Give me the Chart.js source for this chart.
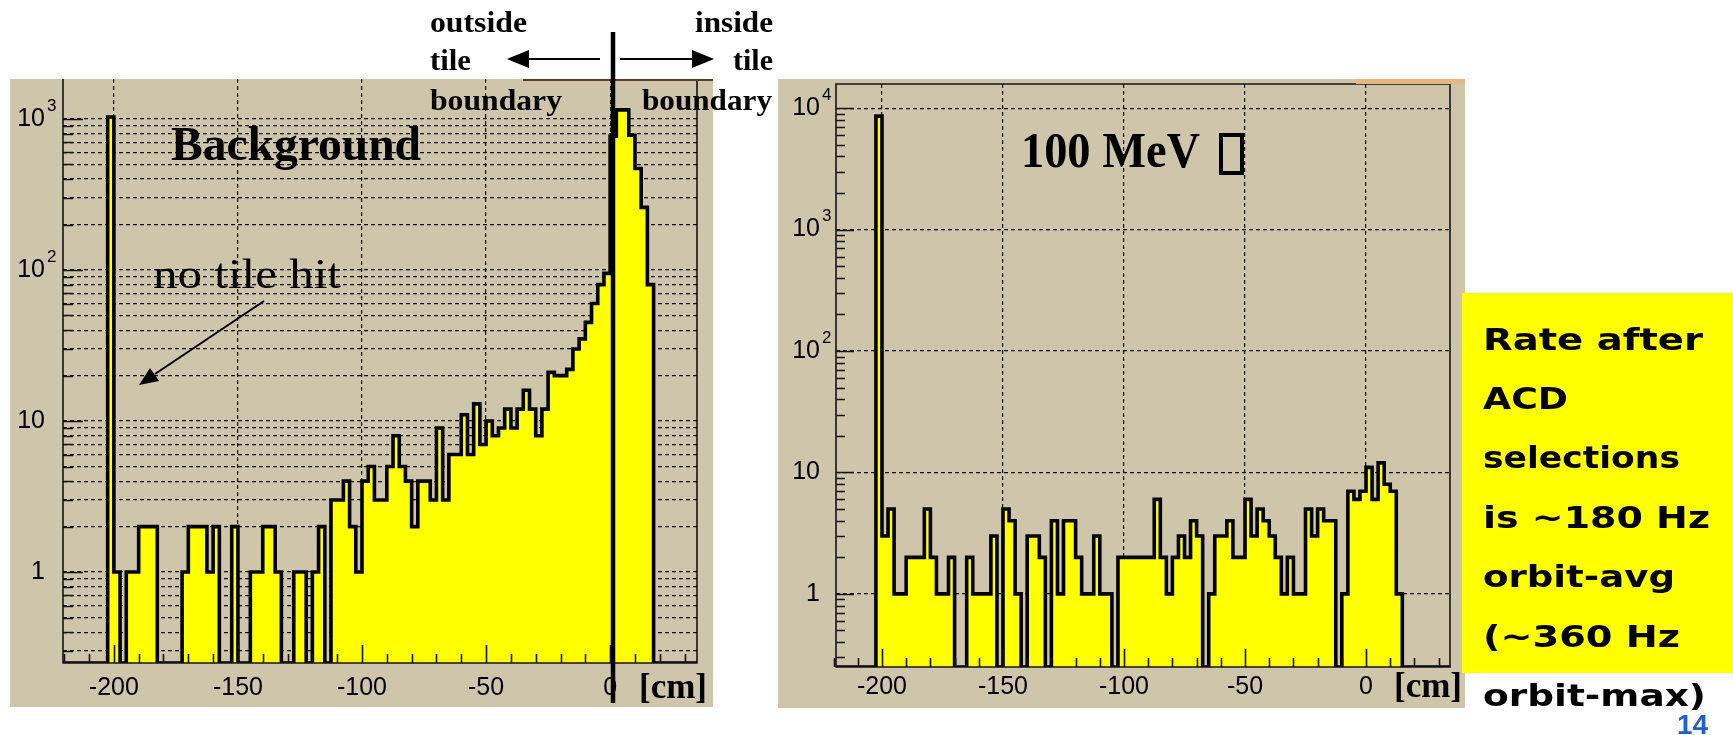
<!DOCTYPE html>
<html>
<head>
<meta charset="utf-8">
<script src="https://cdn.jsdelivr.net/npm/chart.js@4.4.1/dist/chart.umd.min.js"></script>
<style>
  html, body { margin: 0; padding: 0; background: #fff; }
  body { position: relative; width: 1733px; height: 735px; overflow: hidden; }
  .panel { position: absolute; background: #cec5aa; }
  .panel canvas { position: absolute; left: 0; top: 0; }
  #bg-panel { left: 10px; top: 79px; width: 703px; height: 628px; }
  #gamma-panel { left: 778px; top: 79px; width: 687px; height: 629px; }
  #notes { position: absolute; left: 0; top: 0; }
  .serif { font-family: "Liberation Serif", "Times New Roman", serif; }
  .note { font-family: "DejaVu Sans", sans-serif; font-weight: bold; font-size: 31px; }
</style>
</head>
<body>
<div id="bg-panel" class="panel"><canvas id="bg-chart" width="703" height="628"></canvas></div>
<div id="gamma-panel" class="panel"><canvas id="gamma-chart" width="687" height="629"></canvas></div>

<svg id="notes" width="1733" height="735" xmlns="http://www.w3.org/2000/svg">
  <rect x="523" y="79" width="190" height="2" fill="#5b3d2e"/>
  <rect x="1356" y="79" width="109" height="5" fill="#e6b585"/>
  <rect x="1462" y="293" width="271" height="380" fill="#ffff00"/>

  <g class="serif" font-weight="bold" font-size="29">
    <text x="430" y="32" textLength="97" lengthAdjust="spacingAndGlyphs">outside</text>
    <text x="430" y="70" textLength="41" lengthAdjust="spacingAndGlyphs">tile</text>
    <text x="430" y="110" textLength="132" lengthAdjust="spacingAndGlyphs">boundary</text>
    <text x="695" y="32" textLength="78" lengthAdjust="spacingAndGlyphs">inside</text>
    <text x="733" y="70" textLength="40" lengthAdjust="spacingAndGlyphs">tile</text>
    <text x="642" y="110" textLength="130" lengthAdjust="spacingAndGlyphs">boundary</text>
  </g>
  <text class="serif" x="171" y="160" font-weight="bold" font-size="48" textLength="250" lengthAdjust="spacingAndGlyphs">Background</text>
  <text class="serif" x="153" y="288" font-size="42" textLength="188" lengthAdjust="spacingAndGlyphs">no tile hit</text>
  <text class="serif" x="1021" y="167" font-weight="bold" font-size="50" textLength="179" lengthAdjust="spacingAndGlyphs">100 MeV</text>
  <rect x="1221" y="135" width="21" height="38" fill="none" stroke="#000" stroke-width="4"/>

  <g class="note">
    <text x="1483" y="350" textLength="220" lengthAdjust="spacingAndGlyphs">Rate after</text>
    <text x="1483" y="409" textLength="85" lengthAdjust="spacingAndGlyphs">ACD</text>
    <text x="1483" y="468" textLength="197" lengthAdjust="spacingAndGlyphs">selections</text>
    <text x="1483" y="528" textLength="227" lengthAdjust="spacingAndGlyphs">is ~180 Hz</text>
    <text x="1483" y="587" textLength="192" lengthAdjust="spacingAndGlyphs">orbit-avg</text>
    <text x="1483" y="647" textLength="197" lengthAdjust="spacingAndGlyphs">(~360 Hz</text>
    <text x="1483" y="706" textLength="223" lengthAdjust="spacingAndGlyphs">orbit-max)</text>
  </g>
  <text x="1677" y="734" font-family="Liberation Sans, Arial, sans-serif" font-weight="bold" font-size="28" fill="#1f5fd0">14</text>

  <line x1="613" y1="32" x2="613" y2="703" stroke="#000" stroke-width="4.5"/>
  <line x1="600" y1="59" x2="525" y2="59" stroke="#000" stroke-width="2"/>
  <polygon points="507,59 529,50 529,68" fill="#000"/>
  <line x1="620" y1="59" x2="695" y2="59" stroke="#000" stroke-width="2"/>
  <polygon points="714,59 692,50 692,68" fill="#000"/>
  <line x1="264" y1="301" x2="155" y2="374" stroke="#000" stroke-width="2"/>
  <polygon points="139,385 150,368 159,381" fill="#000"/>
</svg>

<script>
// bins are 2.5 cm wide, the first listed bin starts at -202.5 cm
const BIN_WIDTH = 2.5
const FIRST_BIN = -202.5

const BACKGROUND_COUNTS = [
  1030, 1, 0, 1, 1, 2, 2, 2, 0, 0,
  0, 0, 1, 2, 2, 2, 1, 2, 0, 0,
  2, 0, 0, 1, 1, 2, 2, 1, 0, 0,
  1, 1, 0, 1, 2, 0, 3, 3, 4, 2,
  1, 4, 5, 3, 3, 5, 8, 5, 4, 2,
  4, 4, 3, 9, 3, 6, 6, 11, 6, 13,
  7, 10, 8, 9, 12, 9, 12, 16, 12, 8,
  12, 21, 20, 20, 22, 30, 35, 45, 60, 80,
  95, 770, 1150, 1150, 780, 470, 260, 80,
]

const GAMMA_COUNTS = [
  8600, 3, 5, 1, 1, 2, 2, 2, 5, 2,
  1, 1, 2, 0, 0, 2, 1, 1, 1, 3,
  0, 5, 4, 1, 0, 3, 3, 2, 0, 4,
  1, 4, 4, 2, 1, 1, 3, 1, 1, 0,
  2, 2, 2, 2, 2, 2, 6, 2, 1, 2,
  3, 2, 4, 3, 0, 1, 3, 3, 4, 2,
  2, 6, 3, 5, 4, 3, 2, 1, 2, 1,
  1, 5, 3, 5, 4, 4, 0, 1, 7, 6,
  7, 11, 6, 12, 8, 7, 1,
]

const X_MAJOR_TICKS = [-200, -150, -100, -50, 0]
const X_LABELS = ['-200', '-150', '-100', '-50', '0']
const X_MINOR_TICKS = [-220, -210, -190, -180, -170, -160, -140, -130, -120, -110, -90, -80, -70, -60, -40, -30, -20, -10, 10, 20, 30]

const BG_Y_DECADES = [1, 10, 100, 1000]
const BG_Y_LABELS = ['1', '10', '10^2', '10^3']
const GAMMA_Y_DECADES = [1, 10, 100, 1000, 10000]
const GAMMA_Y_LABELS = ['1', '10', '10^2', '10^3', '10^4']

const Y_FLOOR = 0.25
const HIST_FILL = '#ffff00'
const GRID_COLOR = '#111'
const LABEL_FONT = '"Liberation Sans", Arial, sans-serif'

function minorLogTicks(decades, min, max) {
  const values = []
  for (const decade of [decades[0] / 10, ...decades]) {
    for (let k = 2; k <= 9; k++) {
      const v = decade * k
      if (v >= min && v <= max) values.push(v)
    }
  }
  return values
}

function histogramPoints(counts, xMin, xMax) {
  const points = [{ x: xMin, y: Y_FLOOR }]
  counts.forEach((count, i) => {
    points.push({ x: FIRST_BIN + i * BIN_WIDTH, y: Math.max(count, Y_FLOOR) })
  })
  points.push({ x: FIRST_BIN + counts.length * BIN_WIDTH, y: Y_FLOOR })
  points.push({ x: xMax, y: Y_FLOOR })
  return points
}

const rootAxes = {
  id: 'rootAxes',
  afterDraw(chart, args, opts) {
    const { ctx, chartArea: area } = chart
    const x = chart.scales.x
    const y = chart.scales.y
    ctx.save()

    ctx.strokeStyle = '#151515'
    ctx.lineWidth = 1.6
    ctx.beginPath()
    if (opts.topLine) {
      ctx.rect(area.left, area.top, area.right - area.left, area.bottom - area.top)
    } else {
      ctx.moveTo(area.left, area.top)
      ctx.lineTo(area.left, area.bottom)
      ctx.lineTo(area.right, area.bottom)
      ctx.lineTo(area.right, area.top)
    }
    ctx.stroke()

    ctx.beginPath()
    for (const v of opts.yMinor) {
      const py = Math.round(y.getPixelForValue(v)) + 0.5
      ctx.moveTo(area.left, py)
      ctx.lineTo(area.left + opts.yMinorLen, py)
    }
    for (const v of opts.yMajor) {
      const py = Math.round(y.getPixelForValue(v)) + 0.5
      ctx.moveTo(area.left, py)
      ctx.lineTo(area.left + opts.yMajorLen, py)
    }
    for (const v of X_MINOR_TICKS) {
      const px = Math.round(x.getPixelForValue(v)) + 0.5
      ctx.moveTo(px, area.bottom)
      ctx.lineTo(px, area.bottom - 9)
    }
    for (const v of X_MAJOR_TICKS) {
      const px = Math.round(x.getPixelForValue(v)) + 0.5
      ctx.moveTo(px, area.bottom)
      ctx.lineTo(px, area.bottom - 18)
    }
    ctx.stroke()

    ctx.fillStyle = '#000'
    ctx.textBaseline = 'middle'
    opts.yMajor.forEach((value, i) => {
      const label = opts.yLabels[i]
      const py = y.getPixelForValue(value)
      if (label.includes('^')) {
        const [base, exp] = label.split('^')
        ctx.font = `25px ${LABEL_FONT}`
        ctx.textAlign = 'right'
        ctx.fillText(base, area.left - opts.labelGap, py)
        ctx.font = `17px ${LABEL_FONT}`
        ctx.textAlign = 'left'
        ctx.fillText(exp, area.left - opts.labelGap + 2, py - 13)
      } else {
        ctx.font = `25px ${LABEL_FONT}`
        ctx.textAlign = 'right'
        ctx.fillText(label, area.left - opts.labelGap, py)
      }
    })

    ctx.font = `25px ${LABEL_FONT}`
    ctx.textAlign = 'center'
    X_MAJOR_TICKS.forEach((value, i) => {
      ctx.fillText(X_LABELS[i], x.getPixelForValue(value), area.bottom + opts.xLabelDrop)
    })

    ctx.font = 'bold 35px "Liberation Serif", "Times New Roman", serif'
    ctx.textAlign = 'right'
    ctx.fillText('[cm]', area.right + opts.unitShift, area.bottom + opts.xLabelDrop + 1)
    ctx.restore()
  },
}

function mountHistogram(canvas, counts, setup) {
  const [xMin, xMax] = setup.xRange
  const yMinor = minorLogTicks(setup.decades, Y_FLOOR, setup.yMax)
  const gridValues = setup.denseGrid ? [...yMinor, ...setup.decades] : setup.decades

  return new Chart(canvas, {
    type: 'line',
    data: {
      datasets: [{
        data: histogramPoints(counts, xMin, xMax),
        stepped: 'before',
        borderColor: '#000',
        borderWidth: 3.6,
        borderJoinStyle: 'miter',
        backgroundColor: HIST_FILL,
        fill: 'start',
        pointRadius: 0,
        tension: 0,
      }],
    },
    options: {
      responsive: false,
      animation: false,
      devicePixelRatio: 1,
      events: [],
      layout: { padding: setup.padding },
      plugins: {
        legend: { display: false },
        tooltip: { enabled: false },
        rootAxes: {
          topLine: setup.topLine,
          yMajor: setup.decades,
          yLabels: setup.labels,
          yMinor,
          yMajorLen: setup.yMajorLen,
          yMinorLen: setup.yMinorLen,
          labelGap: setup.labelGap,
          xLabelDrop: setup.xLabelDrop,
          unitShift: setup.unitShift,
        },
      },
      scales: {
        x: {
          type: 'linear',
          min: xMin,
          max: xMax,
          z: 1,
          afterBuildTicks: (scale) => { scale.ticks = X_MAJOR_TICKS.map((value) => ({ value })) },
          ticks: { display: false },
          grid: { color: GRID_COLOR, lineWidth: 1.2, drawTicks: false },
          border: { display: false, dash: [4, 3] },
        },
        y: {
          type: 'logarithmic',
          min: Y_FLOOR,
          max: setup.yMax,
          z: 1,
          afterBuildTicks: (scale) => { scale.ticks = gridValues.map((value) => ({ value })) },
          ticks: { display: false },
          grid: { color: GRID_COLOR, lineWidth: 1.2, drawTicks: false },
          border: { display: false, dash: [4, 3] },
        },
      },
    },
    plugins: [rootAxes],
  })
}

mountHistogram(document.getElementById('bg-chart'), BACKGROUND_COUNTS, {
  xRange: [-220.5, 35],
  yMax: 1840,
  decades: BG_Y_DECADES,
  labels: BG_Y_LABELS,
  denseGrid: true,
  topLine: false,
  padding: { left: 53, right: 16, top: 0, bottom: 44 },
  yMajorLen: 20,
  yMinorLen: 10,
  labelGap: 18,
  xLabelDrop: 25,
  unitShift: 10,
})

mountHistogram(document.getElementById('gamma-chart'), GAMMA_COUNTS, {
  xRange: [-219, 34.7],
  yMax: 15800,
  decades: GAMMA_Y_DECADES,
  labels: GAMMA_Y_LABELS,
  denseGrid: false,
  topLine: true,
  padding: { left: 58, right: 15, top: 5, bottom: 41 },
  yMajorLen: 18,
  yMinorLen: 9,
  labelGap: 16,
  xLabelDrop: 20,
  unitShift: 12,
})
</script>
</body>
</html>
